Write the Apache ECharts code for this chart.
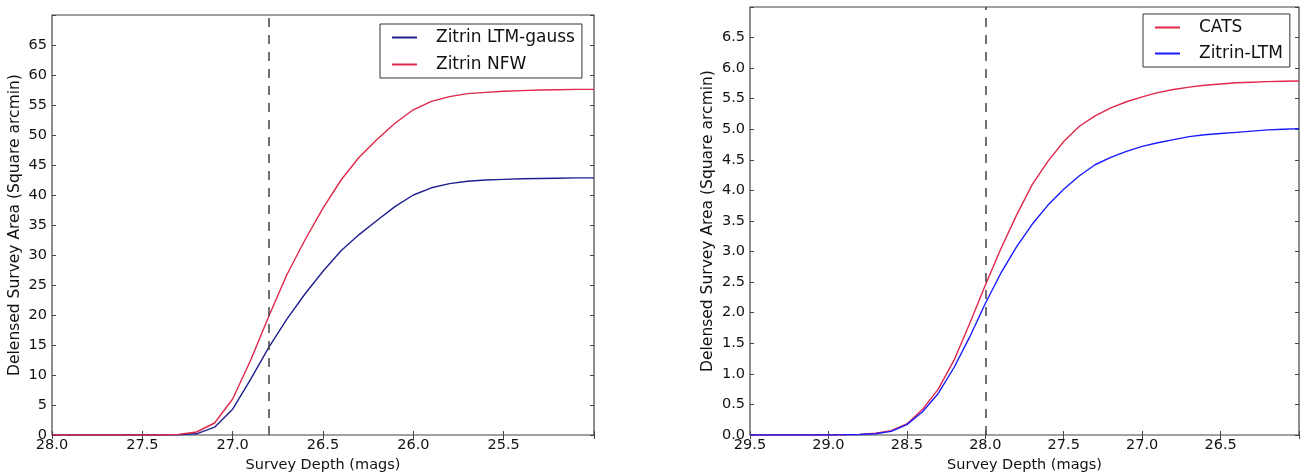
<!DOCTYPE html>
<html>
<head>
<meta charset="utf-8">
<script src="https://cdn.jsdelivr.net/npm/echarts@6/dist/echarts.min.js"></script>
<style>
html, body { margin: 0; padding: 0; background: #fff; }
#chart { width: 1307px; height: 476px; }
</style>
</head>
<body>
<div id="chart"></div>
<script>
// left panel: survey depth (mags) vs delensed area
var magsLeft = [28.0, 27.9, 27.8, 27.7, 27.6, 27.5, 27.4, 27.3, 27.2, 27.1, 27.0,
    26.9, 26.8, 26.7, 26.6, 26.5, 26.4, 26.3, 26.2, 26.1, 26.0,
    25.9, 25.8, 25.7, 25.6, 25.5, 25.4, 25.3, 25.2, 25.1, 25.0];
var ltmGauss = [0, 0, 0, 0, 0, 0, 0, 0.05, 0.2, 1.3, 4.3,
    9.3, 14.6, 19.3, 23.5, 27.3, 30.7, 33.4, 35.8, 38.1, 40.0,
    41.2, 41.9, 42.3, 42.5, 42.6, 42.7, 42.75, 42.8, 42.85, 42.85];
var nfw = [0, 0, 0, 0, 0, 0, 0, 0.1, 0.5, 2.0, 6.0,
    12.5, 19.8, 26.7, 32.5, 37.8, 42.5, 46.3, 49.3, 52.0, 54.2,
    55.6, 56.4, 56.9, 57.1, 57.3, 57.4, 57.5, 57.55, 57.6, 57.6];
var cutLeft = 26.8;

// right panel
var magsRight = [29.5, 29.4, 29.3, 29.2, 29.1, 29.0, 28.9, 28.8, 28.7, 28.6, 28.5,
    28.4, 28.3, 28.2, 28.1, 28.0, 27.9, 27.8, 27.7, 27.6, 27.5,
    27.4, 27.3, 27.2, 27.1, 27.0, 26.9, 26.8, 26.7, 26.6, 26.5,
    26.4, 26.3, 26.2, 26.1, 26.0];
var cats = [0, 0, 0, 0, 0, 0, 0.005, 0.01, 0.03, 0.07, 0.18,
    0.42, 0.75, 1.22, 1.82, 2.45, 3.05, 3.6, 4.1, 4.48, 4.8,
    5.05, 5.22, 5.35, 5.45, 5.53, 5.6, 5.65, 5.69, 5.72, 5.74,
    5.76, 5.77, 5.78, 5.785, 5.79];
var zitrinLtm = [0, 0, 0, 0, 0, 0, 0.003, 0.008, 0.02, 0.06, 0.17,
    0.38, 0.68, 1.1, 1.6, 2.15, 2.65, 3.08, 3.45, 3.76, 4.02,
    4.24, 4.42, 4.54, 4.64, 4.72, 4.78, 4.83, 4.88, 4.91, 4.93,
    4.95, 4.97, 4.99, 5.0, 5.01];
var cutRight = 28.0;

function pairs(xs, ys) {
    return xs.map(function (x, i) { return [x, ys[i]]; });
}

var font = "DejaVu Sans";
var axisColor = "#444";
var textColor = "#111";

function xAx(grid, min, max, top) {
    return {
        type: "value",
        gridIndex: grid,
        position: top ? "top" : "bottom",
        min: min,
        max: max,
        interval: 0.5,
        inverse: true,
        axisLine: { show: false },
        axisTick: { show: true, inside: true, length: 4, lineStyle: { color: axisColor } },
        splitLine: { show: false },
        axisLabel: {
            show: !top,
            margin: 3,
            color: textColor,
            fontFamily: font,
            fontSize: 14.5,
            formatter: function (v) {
                return Math.abs(v - min) < 1e-6 ? "" : v.toFixed(1);
            },
        },
        name: top ? "" : "Survey Depth (mags)",
        nameLocation: "middle",
        nameGap: 23,
        nameTextStyle: { color: textColor, fontFamily: font, fontSize: 14.5 },
    };
}

function yAx(grid, max, step, dec, right, gap) {
    return {
        type: "value",
        gridIndex: grid,
        position: right ? "right" : "left",
        min: 0,
        max: max,
        interval: step,
        axisLine: { show: false },
        axisTick: { show: true, inside: true, length: 4, lineStyle: { color: axisColor } },
        splitLine: { show: false },
        axisLabel: {
            show: !right,
            margin: 5,
            color: textColor,
            fontFamily: font,
            fontSize: 14.5,
            formatter: function (v) {
                return Math.abs(v - max) < 1e-6 ? "" : v.toFixed(dec);
            },
        },
        name: right ? "" : "Delensed Survey Area (Square arcmin)",
        nameLocation: "middle",
        nameGap: gap,
        nameTextStyle: { color: textColor, fontFamily: font, fontSize: 15.5 },
    };
}

function cutLine(x) {
    return {
        silent: true,
        symbol: ["none", "none"],
        label: { show: false },
        lineStyle: { color: "#444", width: 1.5, type: [9, 8] },
        data: [{ xAxis: x }],
    };
}

function legendBox(left, top, names, gap) {
    return {
        left: left, top: top, orient: "vertical",
        data: names,
        icon: "rect",
        itemWidth: 25, itemHeight: 2, itemGap: gap,
        padding: [5, 7, 5, 12],
        borderColor: "#333", borderWidth: 1, backgroundColor: "#fff",
        textStyle: { color: textColor, fontFamily: font, fontSize: 17, padding: [0, 0, 0, 14] },
    };
}

var myChart = echarts.init(document.getElementById("chart"));
var option = {
    animation: false,
    backgroundColor: "#fff",
    grid: [
        { left: 52, top: 15, width: 542, height: 420, outerBoundsMode: "none", show: true, borderColor: axisColor, borderWidth: 1.2, backgroundColor: "transparent" },
        { left: 750, top: 7, width: 549, height: 428, outerBoundsMode: "none", show: true, borderColor: axisColor, borderWidth: 1.2, backgroundColor: "transparent" },
    ],
    xAxis: [
        xAx(0, 25, 28, false),
        xAx(0, 25, 28, true),
        xAx(1, 26, 29.5, false),
        xAx(1, 26, 29.5, true),
    ],
    yAxis: [
        yAx(0, 70, 5, 0, false, 29),
        yAx(0, 70, 5, 0, true, 0),
        yAx(1, 7, 0.5, 1, false, 34),
        yAx(1, 7, 0.5, 1, true, 0),
    ],
    legend: [
        legendBox(380, 24, ["Zitrin LTM-gauss", "Zitrin NFW"], 10),
        legendBox(1143, 14, ["CATS", "Zitrin-LTM"], 9),
    ],
    series: [
        {
            name: "Zitrin LTM-gauss", type: "line", xAxisIndex: 0, yAxisIndex: 0,
            data: pairs(magsLeft, ltmGauss), symbol: "none",
            lineStyle: { color: "#1f1f8f", width: 1.4 }, itemStyle: { color: "#1f1f8f" },
            markLine: cutLine(cutLeft),
        },
        {
            name: "Zitrin NFW", type: "line", xAxisIndex: 0, yAxisIndex: 0,
            data: pairs(magsLeft, nfw), symbol: "none",
            lineStyle: { color: "#e0274a", width: 1.4 }, itemStyle: { color: "#e0274a" },
        },
        {
            name: "CATS", type: "line", xAxisIndex: 2, yAxisIndex: 2,
            data: pairs(magsRight, cats), symbol: "none",
            lineStyle: { color: "#e0274a", width: 1.4 }, itemStyle: { color: "#e0274a" },
            markLine: cutLine(cutRight),
        },
        {
            name: "Zitrin-LTM", type: "line", xAxisIndex: 2, yAxisIndex: 2,
            data: pairs(magsRight, zitrinLtm), symbol: "none",
            lineStyle: { color: "#1a1aff", width: 1.4 }, itemStyle: { color: "#1a1aff" },
        },
    ],
};
myChart.setOption(option);
window.addEventListener("resize", function () {
    myChart.resize();
});
</script>
</body>
</html>
